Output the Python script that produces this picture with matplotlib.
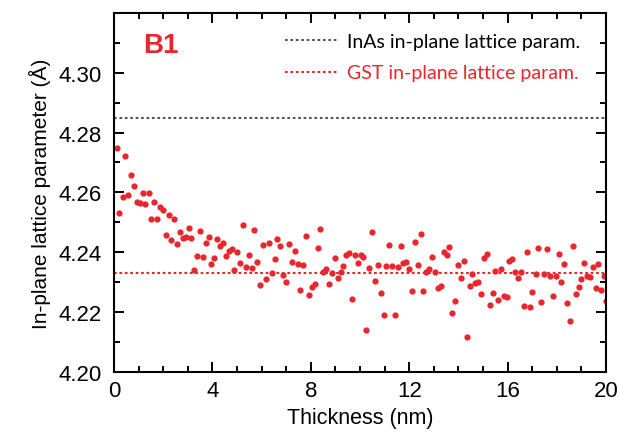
import matplotlib
matplotlib.use("Agg")
import matplotlib.pyplot as plt
from matplotlib.ticker import MultipleLocator

# thickness (nm) and in-plane lattice parameter (Angstrom)
thickness = [
    0.11, 0.22, 0.35, 0.46, 0.58, 0.70, 0.81, 0.93, 1.06, 1.17,
    1.27, 1.41, 1.52, 1.64, 1.75, 1.86, 1.98, 2.10, 2.22, 2.33,
    2.45, 2.57, 2.68, 2.79, 2.91, 3.04, 3.14, 3.26, 3.37, 3.50,
    3.62, 3.73, 3.85, 3.96, 4.08, 4.19, 4.31, 4.43, 4.54, 4.66,
    4.78, 4.89, 5.00, 5.12, 5.24, 5.35, 5.48, 5.60, 5.70, 5.83,
    5.95, 6.06, 6.17, 6.29, 6.41, 6.53, 6.64, 6.76, 6.87, 6.99,
    7.11, 7.22, 7.35, 7.47, 7.57, 7.70, 7.82, 7.93, 8.04, 8.16,
    8.28, 8.39, 8.51, 8.63, 8.74, 8.86, 8.98, 9.09, 9.22, 9.32,
    9.44, 9.55, 9.67, 9.80, 9.91, 10.03, 10.13, 10.26, 10.38, 10.49,
    10.61, 10.72, 10.84, 10.96, 11.07, 11.19, 11.30, 11.42, 11.53, 11.65,
    11.76, 11.88, 11.99, 12.11, 12.22, 12.35, 12.47, 12.57, 12.70, 12.82,
    12.93, 13.05, 13.17, 13.28, 13.41, 13.52, 13.63, 13.75, 13.86, 14.00,
    14.11, 14.22, 14.34, 14.46, 14.57, 14.69, 14.80, 14.92, 15.03, 15.15,
    15.27, 15.39, 15.50, 15.62, 15.73, 15.85, 15.96, 16.07, 16.19, 16.31,
    16.42, 16.54, 16.65, 16.78, 16.90, 17.00, 17.14, 17.25, 17.37, 17.48,
    17.59, 17.72, 17.83, 17.96, 18.08, 18.18, 18.30, 18.43, 18.55, 18.66,
    18.77, 18.89, 19.00, 19.11, 19.23, 19.35, 19.46, 19.59, 19.69, 19.81,
    19.93, 19.99,
]
lattice = [
    4.2750, 4.2531, 4.2583, 4.2722, 4.2591, 4.2658, 4.2623, 4.2567, 4.2564, 4.2598,
    4.2562, 4.2598, 4.2512, 4.2567, 4.2512, 4.2550, 4.2540, 4.2457, 4.2524, 4.2441,
    4.2511, 4.2427, 4.2468, 4.2447, 4.2451, 4.2482, 4.2448, 4.2341, 4.2386, 4.2472,
    4.2385, 4.2429, 4.2452, 4.2361, 4.2380, 4.2443, 4.2421, 4.2431, 4.2386, 4.2405,
    4.2410, 4.2339, 4.2402, 4.2364, 4.2490, 4.2351, 4.2391, 4.2347, 4.2473, 4.2367,
    4.2291, 4.2423, 4.2309, 4.2432, 4.2330, 4.2378, 4.2445, 4.2421, 4.2325, 4.2301,
    4.2426, 4.2367, 4.2404, 4.2361, 4.2274, 4.2356, 4.2455, 4.2257, 4.2284, 4.2294,
    4.2415, 4.2476, 4.2334, 4.2344, 4.2294, 4.2331, 4.2382, 4.2312, 4.2335, 4.2355,
    4.2390, 4.2398, 4.2242, 4.2390, 4.2365, 4.2391, 4.2384, 4.2139, 4.2346, 4.2466,
    4.2302, 4.2357, 4.2263, 4.2190, 4.2353, 4.2423, 4.2354, 4.2190, 4.2351, 4.2422,
    4.2363, 4.2367, 4.2343, 4.2270, 4.2435, 4.2357, 4.2461, 4.2269, 4.2335, 4.2345,
    4.2385, 4.2334, 4.2280, 4.2287, 4.2399, 4.2390, 4.2418, 4.2198, 4.2238, 4.2357,
    4.2312, 4.2369, 4.2116, 4.2286, 4.2327, 4.2296, 4.2299, 4.2260, 4.2379, 4.2393,
    4.2223, 4.2264, 4.2336, 4.2239, 4.2343, 4.2252, 4.2250, 4.2372, 4.2376, 4.2333,
    4.2312, 4.2333, 4.2220, 4.2399, 4.2218, 4.2268, 4.2327, 4.2415, 4.2232, 4.2326,
    4.2410, 4.2321, 4.2252, 4.2319, 4.2394, 4.2299, 4.2359, 4.2230, 4.2169, 4.2421,
    4.2259, 4.2284, 4.2311, 4.2364, 4.2321, 4.2316, 4.2351, 4.2280, 4.2362, 4.2273,
    4.2319, 4.2236,
]

inas_param = 4.285
gst_param = 4.233
labels = ["InAs in-plane lattice param.", "GST in-plane lattice param."]
ytick_vals = [4.20, 4.22, 4.24, 4.26, 4.28, 4.30]

red = "#e8262b"
grey = "#555555"

plt.rcParams['font.family'] = ['Liberation Sans', 'DejaVu Sans']

fig = plt.figure(figsize=(6.19, 4.39), dpi=100)
ax = fig.add_axes([0.1842, 0.151, 0.7948, 0.817])

dots = (0, (1.3, 1.3))
ax.axhline(inas_param, color=grey, lw=1.5, linestyle=dots, label=labels[0])
ax.axhline(gst_param, color=red, lw=1.5, linestyle=dots, label=labels[1])
ax.plot(thickness, lattice, 'o', color=red, markersize=4.5, markeredgewidth=0)

ax.set_xlim(0, 20)
ax.set_ylim(4.20, 4.32)
ax.xaxis.set_major_locator(MultipleLocator(4))
ax.xaxis.set_minor_locator(MultipleLocator(1))
ax.yaxis.set_minor_locator(MultipleLocator(0.01))
ax.set_yticks(ytick_vals)
ax.set_yticklabels([f"{v:.2f}" for v in ytick_vals])

ax.tick_params(which='both', direction='in', top=True, right=True,
               labelsize=16, width=1.4)
ax.tick_params(which='major', length=7)
ax.tick_params(which='minor', length=4)
ax.tick_params(axis='y', which='major', pad=9)
ax.tick_params(axis='x', which='major', pad=6)
for s in ax.spines.values():
    s.set_linewidth(1.5)

ax.set_xlabel("Thickness (nm)", fontsize=15.5, labelpad=4)
ax.set_ylabel("In-plane lattice parameter (Å)", fontsize=15, labelpad=5)

ax.text(0.059, 0.91, "B1", transform=ax.transAxes, color=red,
        fontsize=20, fontweight='bold', va='center', ha='left')

leg = ax.legend(loc='upper left', frameon=False, handlelength=2.75,
                handletextpad=0.45, labelspacing=0.75, borderpad=0,
                borderaxespad=0, prop={'family': 'Lato', 'size': 14},
                bbox_to_anchor=(0.3476, 0.945))
for txt, col in zip(leg.get_texts(), ['black', red]):
    txt.set_color(col)

fig.savefig("out.png", dpi=100)
